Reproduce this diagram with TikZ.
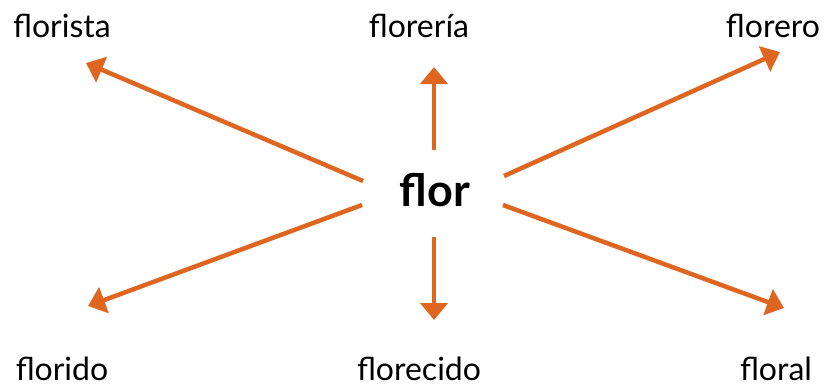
\documentclass[tikz,border=0pt]{standalone}
\usepackage{fontspec}
\setmainfont{Lato}
\usetikzlibrary{arrows.meta}
\definecolor{arr}{RGB}{222,102,32}
\begin{document}
\begin{tikzpicture}[x=1pt,y=-1pt,
  word/.style={inner sep=0pt, anchor=base, font=\fontsize{32}{36}\selectfont},
  con/.style={draw=arr, line width=4.5pt, -{Triangle[length=17pt,width=27pt]}}]
\useasboundingbox (0,0) rectangle (827,388);
\node[word] (florista) at (62,37) {florista};
\node[word] (floreria) at (419,37) {florería};
\node[word] (florero) at (773,37) {florero};
\node[inner sep=0pt, anchor=base, font=\fontsize{45}{50}\selectfont\bfseries] (flor) at (435,206) {flor};
\node[word] (florido) at (62,380) {florido};
\node[word] (florecido) at (419,380) {florecido};
\node[word] (floral) at (776,380) {floral};
\coordinate (a1s) at (363,181); \coordinate (a1e) at (86,63);
\coordinate (a2s) at (434,150); \coordinate (a2e) at (434,67);
\coordinate (a3s) at (504,176); \coordinate (a3e) at (780,52);
\coordinate (a4s) at (362,205); \coordinate (a4e) at (88,306);
\coordinate (a5s) at (434,237); \coordinate (a5e) at (434,320);
\coordinate (a6s) at (503,205); \coordinate (a6e) at (784,308);
\draw[con] (a1s) -- (a1e);
\draw[con] (a2s) -- (a2e);
\draw[con] (a3s) -- (a3e);
\draw[con] (a4s) -- (a4e);
\draw[con] (a5s) -- (a5e);
\draw[con] (a6s) -- (a6e);
\end{tikzpicture}
\end{document}
